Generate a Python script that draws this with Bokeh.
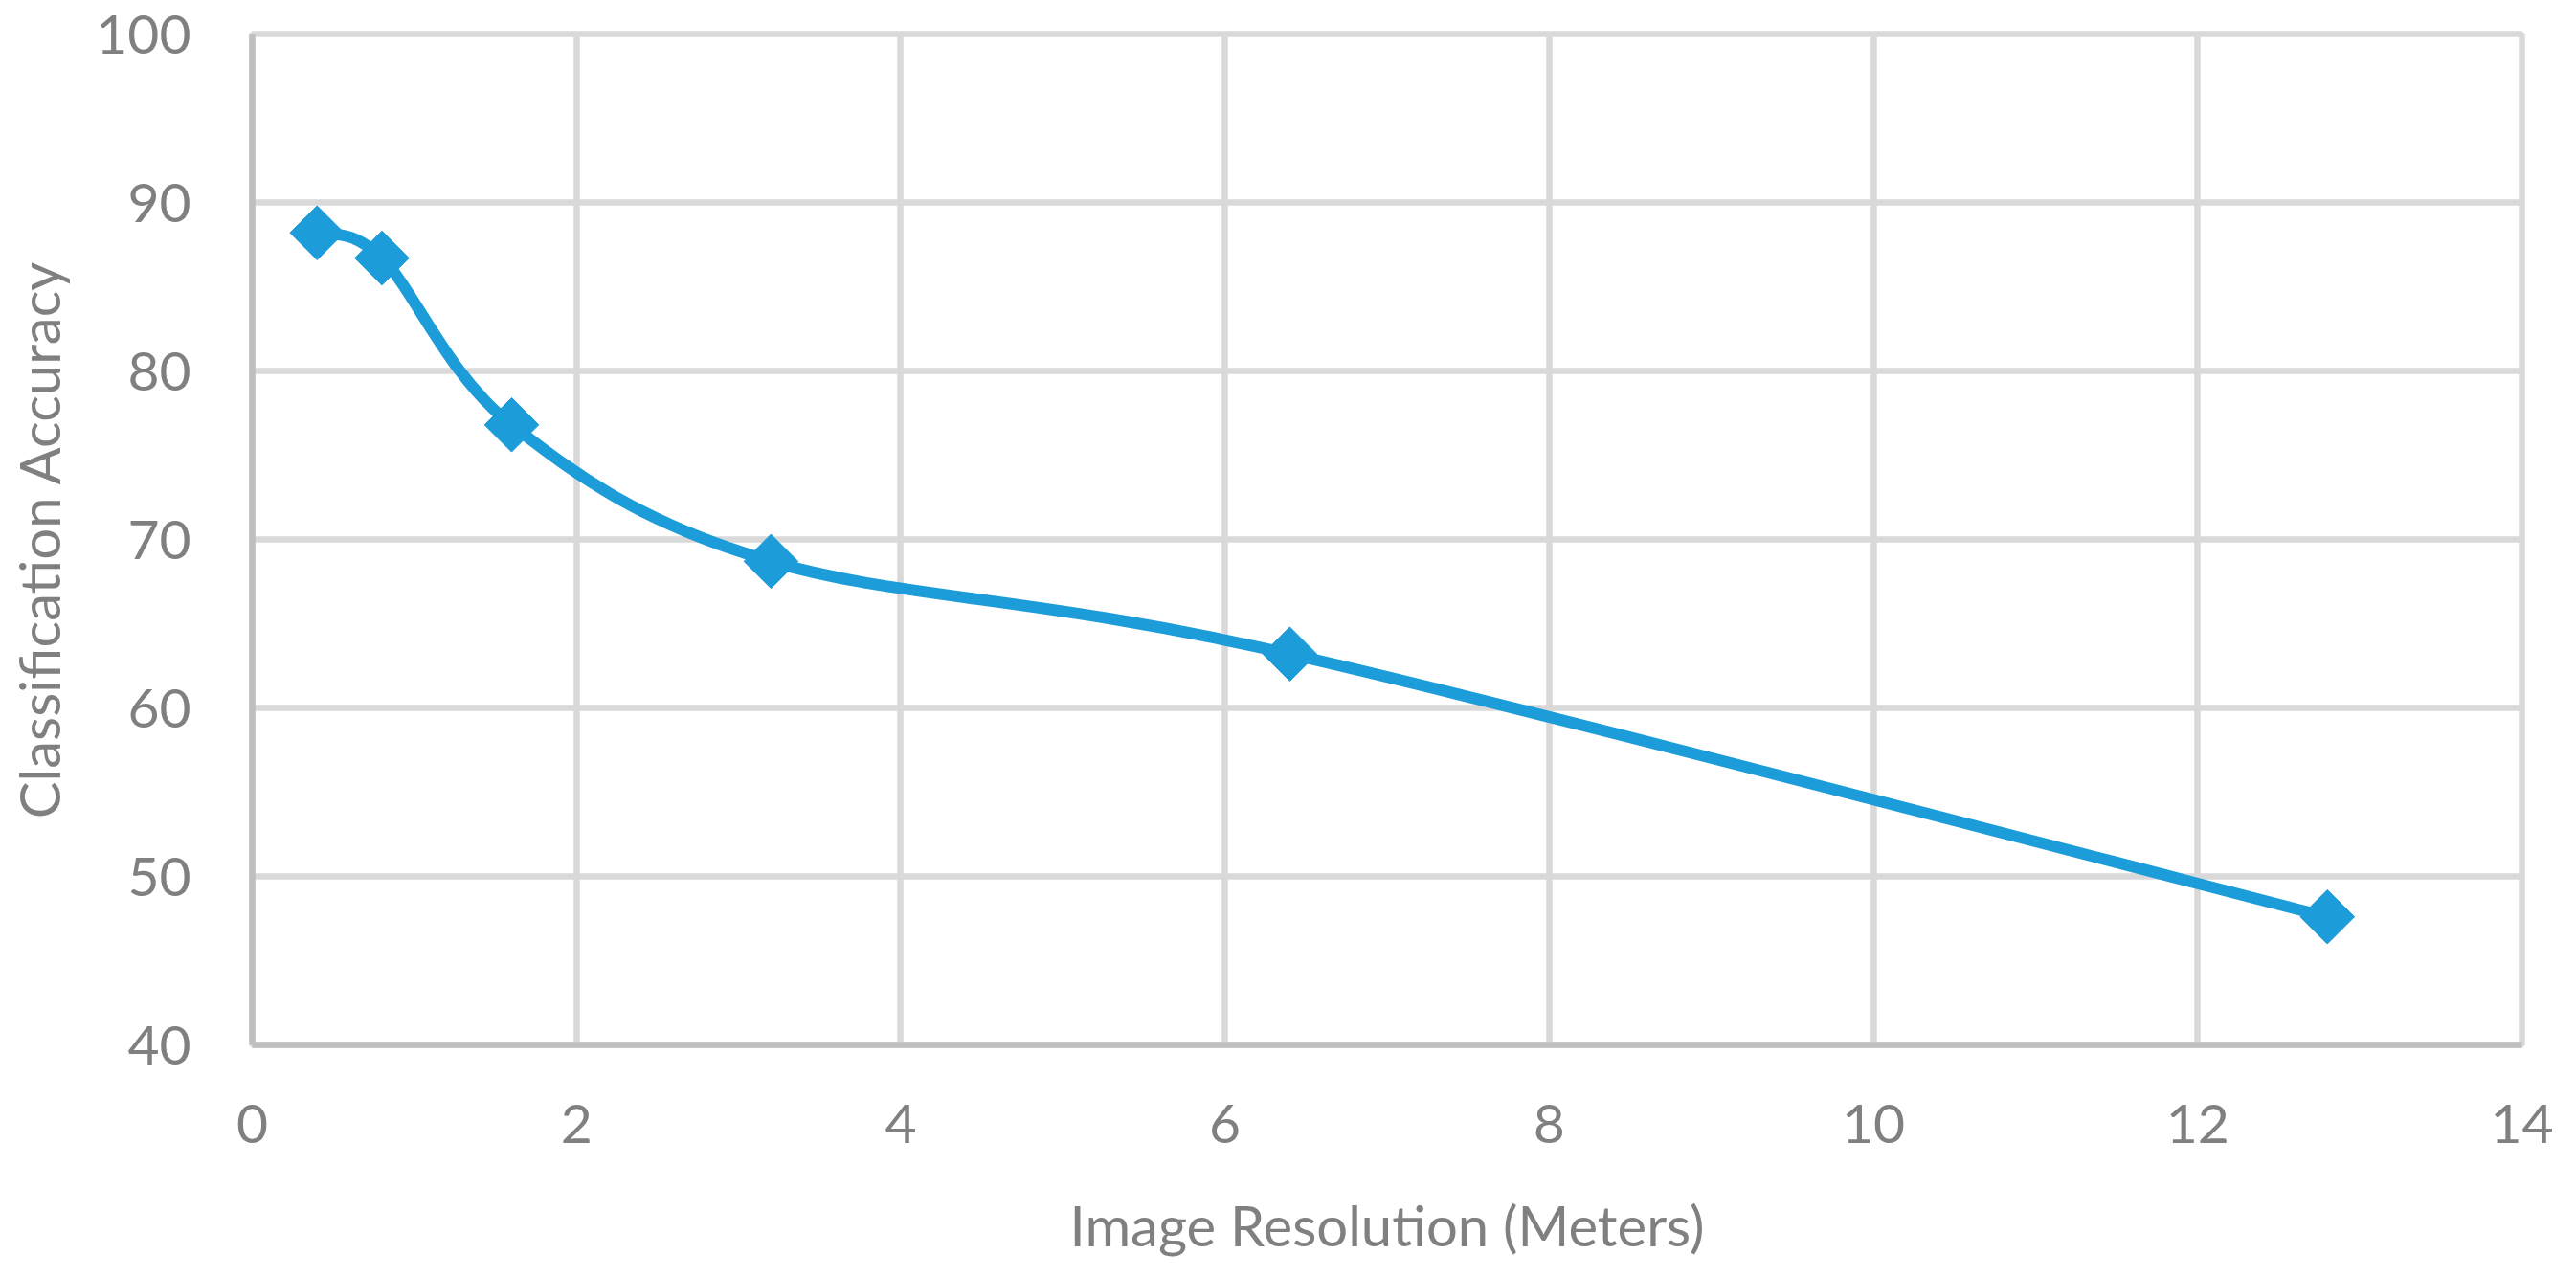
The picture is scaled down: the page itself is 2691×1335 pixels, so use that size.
import numpy as np
from bokeh.plotting import figure
from bokeh.models import Range1d, FixedTicker
from bokeh.embed import file_html
from bokeh.resources import INLINE

# ---- data ----
resolution_m = [0.4, 0.8, 1.6, 3.2, 6.4, 12.8]
accuracy = [88.2, 86.7, 76.8, 68.7, 63.2, 47.6]
x_ticks = [0, 2, 4, 6, 8, 10, 12, 14]
y_ticks = [40, 50, 60, 70, 80, 90, 100]
x_title = "Image Resolution (Meters)"
y_title = "Classification Accuracy"

LINE = "#1C9CD8"
GRID = "#D9D9D9"
AXIS = "#BFBFBF"
TEXT = "#808080"
FONT = "Lato"

p = figure(width=2691, height=1335, output_backend="svg", toolbar_location=None,
           x_range=Range1d(0, 14), y_range=Range1d(40, 100),
           min_border_left=263, min_border_right=57, min_border_top=35,
           min_border_bottom=244)
p.background_fill_color = "white"
p.border_fill_color = "white"
p.outline_line_color = GRID
p.outline_line_width = 6.5

for g, t in ((p.xgrid, x_ticks), (p.ygrid, y_ticks)):
    g.ticker = FixedTicker(ticks=t)
    g.grid_line_color = GRID
    g.grid_line_width = 6.5

for ax, t in ((p.xaxis, x_ticks), (p.yaxis, y_ticks)):
    ax.ticker = FixedTicker(ticks=t)
    ax.axis_line_color = AXIS
    ax.axis_line_width = 6.5
    ax.major_tick_line_color = None
    ax.minor_tick_line_color = None
    ax.major_label_text_font = FONT
    ax.major_label_text_font_size = "57px"
    ax.major_label_text_color = TEXT
    ax.axis_label_text_font = FONT
    ax.axis_label_text_font_size = "58px"
    ax.axis_label_text_color = TEXT
    ax.axis_label_text_font_style = "normal"

p.xaxis.axis_label = x_title
p.yaxis.axis_label = y_title
p.xaxis.major_label_standoff = 56
p.xaxis.axis_label_standoff = 48
p.yaxis.major_label_standoff = 58
p.yaxis.axis_label_standoff = 22

# smoothed line (Catmull-Rom style Bezier segments, like a spreadsheet "smoothed line")
xs = np.array(resolution_m, dtype=float)
ys = np.array(accuracy, dtype=float)
xprev = np.concatenate([[xs[0]], xs[:-1]])
yprev = np.concatenate([[ys[0]], ys[:-1]])
xnext = np.concatenate([xs[1:], [xs[-1]]])
ynext = np.concatenate([ys[1:], [ys[-1]]])
tx = (xnext - xprev) / 6.0
ty = (ynext - yprev) / 6.0
p.bezier(x0=xs[:-1], y0=ys[:-1], x1=xs[1:], y1=ys[1:],
         cx0=xs[:-1] + tx[:-1], cy0=ys[:-1] + ty[:-1],
         cx1=xs[1:] - tx[1:], cy1=ys[1:] - ty[1:],
         line_color=LINE, line_width=12, line_cap="round")

p.scatter(resolution_m, accuracy, marker="square", angle=np.pi / 4, size=40,
          fill_color=LINE, line_color=LINE)

open("out.html", "w").write(file_html(p, INLINE))
